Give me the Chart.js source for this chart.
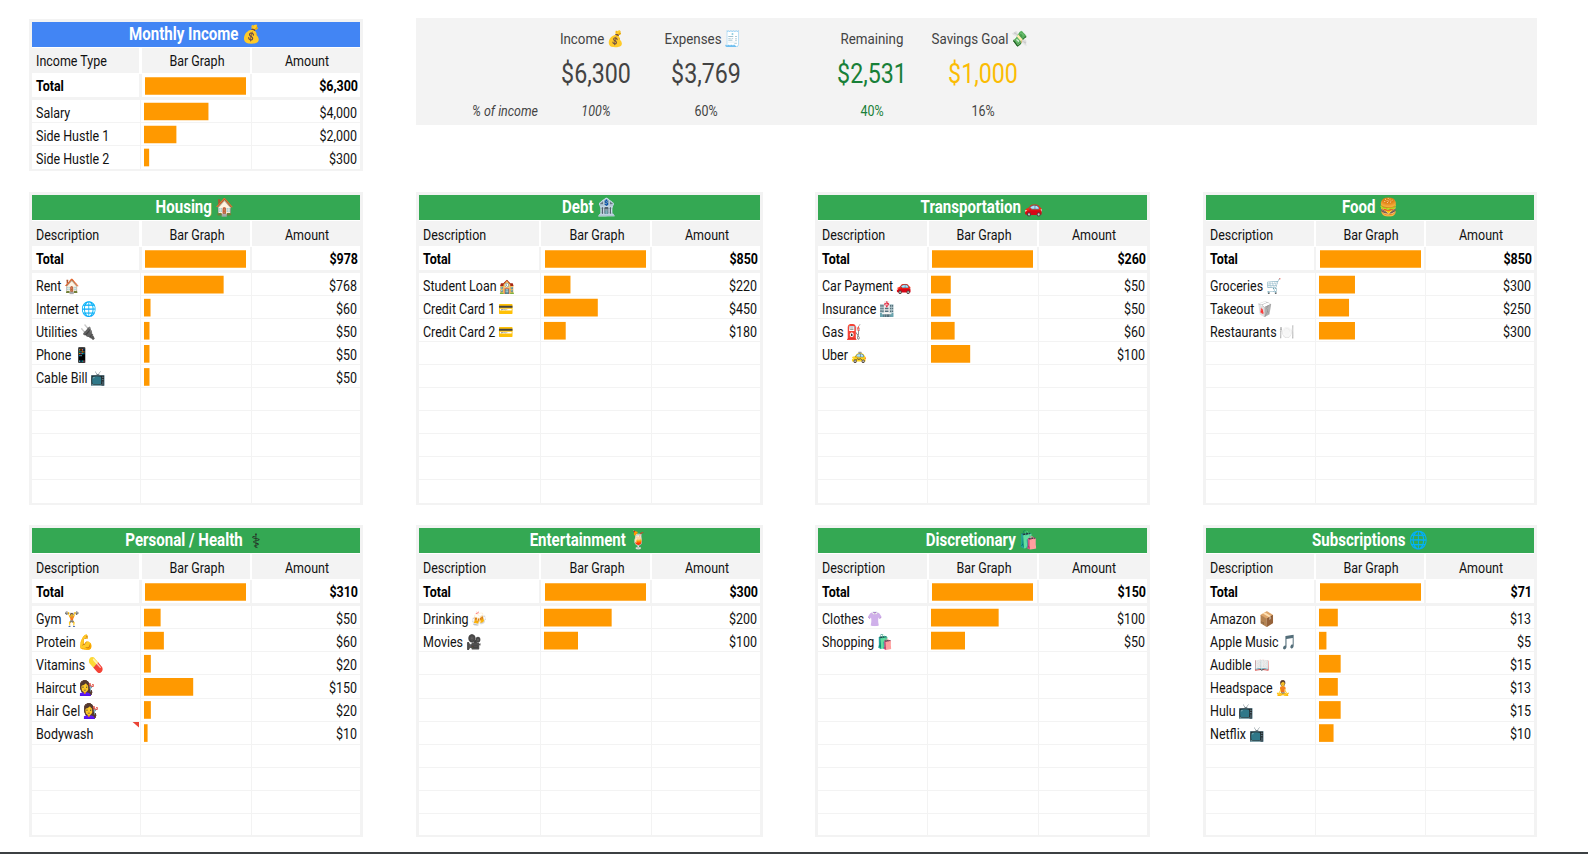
<!DOCTYPE html>
<html lang="en">
<head>
<meta charset="UTF-8">
<title>Monthly Budget Dashboard</title>
<script src="https://cdn.jsdelivr.net/npm/chart.js"></script>
<style>
  * { box-sizing: border-box; margin: 0; padding: 0; }
  html, body { width: 1588px; height: 854px; background: #fff; overflow: hidden; }
  body { position: relative; font-family: Roboto, "Noto Color Emoji", "DejaVu Sans", sans-serif; color: #222; }
  .box { position: absolute; }
  .txt { position: absolute; white-space: nowrap; line-height: 1; }
  canvas { position: absolute; display: block; }
</style>
</head>
<body>
<script>
// ─── Data ─────────────────────────────────────────────────────────────────────
const incomeLabels = ['Salary', 'Side Hustle 1', 'Side Hustle 2'];
const incomeValues = [4000, 2000, 300];
const incomeTotal = 6300;

const housingLabels = ['Rent 🏠', 'Internet 🌐', 'Utilities 🔌', 'Phone 📱', 'Cable Bill 📺'];
const housingValues = [768, 60, 50, 50, 50];
const housingTotal = 978;

const debtLabels = ['Student Loan 🏫', 'Credit Card 1 💳', 'Credit Card 2 💳'];
const debtValues = [220, 450, 180];
const debtTotal = 850;

const transportLabels = ['Car Payment 🚗', 'Insurance 🏥', 'Gas ⛽', 'Uber 🚕'];
const transportValues = [50, 50, 60, 100];
const transportTotal = 260;

const foodLabels = ['Groceries 🛒', 'Takeout 🥡', 'Restaurants 🍽️'];
const foodValues = [300, 250, 300];
const foodTotal = 850;

const personalLabels = ['Gym 🏋️', 'Protein 💪', 'Vitamins 💊', 'Haircut 💇‍♀️', 'Hair Gel 💇‍♀️', 'Bodywash'];
const personalValues = [50, 60, 20, 150, 20, 10];
const personalTotal = 310;

const entertainmentLabels = ['Drinking 🍻', 'Movies 🎥'];
const entertainmentValues = [200, 100];
const entertainmentTotal = 300;

const discretionaryLabels = ['Clothes 👚', 'Shopping 🛍️'];
const discretionaryValues = [100, 50];
const discretionaryTotal = 150;

const subsLabels = ['Amazon 📦', 'Apple Music 🎵', 'Audible 📖', 'Headspace 🧘', 'Hulu 📺', 'Netflix 📺'];
const subsValues = [13, 5, 15, 13, 15, 10];
const subsTotal = 71;

const summaryHeads = ['Income 💰', 'Expenses 🧾', 'Remaining', 'Savings Goal 💸'];
const summaryValues = ['$6,300', '$3,769', '$2,531', '$1,000'];
const summaryPercents = ['100%', '60%', '40%', '16%'];

// ─── Colours and helpers ──────────────────────────────────────────────────────
const GREY = '#f3f3f3', ORANGE = '#ff9900', INK = '#111';
const SQUEEZE = 0.86;   // Roboto squeezed to look like Roboto Condensed

function box(x, y, w, h, color) {
  const el = document.createElement('div');
  el.className = 'box';
  el.style.cssText = `left:${x}px;top:${y}px;width:${w}px;height:${h}px;background:${color}`;
  document.body.appendChild(el);
  return el;
}

// x is the left edge, the centre or the right edge, depending on align
function text(str, x, cy, size, align, color, extra) {
  const el = document.createElement('span');
  el.className = 'txt';
  el.textContent = str;
  const shift = align === 'center' ? '-50%' : align === 'right' ? '-100%' : '0';
  const origin = align === 'center' ? '50%' : align === 'right' ? '100%' : '0';
  el.style.cssText = `left:${x}px;top:${cy}px;font-size:${size}px;color:${color};` +
    `transform-origin:${origin} 50%;transform:translate(${shift},-50%) scaleX(${SQUEEZE});${extra || ''}`;
  document.body.appendChild(el);
}

function barChart(x, y, w, h, labels, values, max, thickness) {
  const canvas = document.createElement('canvas');
  canvas.width = w;
  canvas.height = h;
  canvas.style.left = x + 'px';
  canvas.style.top = y + 'px';
  document.body.appendChild(canvas);
  new Chart(canvas, {
    type: 'bar',
    data: { labels, datasets: [{ data: values, backgroundColor: ORANGE, barThickness: thickness }] },
    options: {
      indexAxis: 'y',
      responsive: false,
      animation: false,
      layout: { padding: 0 },
      plugins: { legend: { display: false }, tooltip: { enabled: false } },
      scales: {
        x: { display: false, min: 0, max },
        y: { display: false },
      },
    },
  });
}

// ─── One budget table ─────────────────────────────────────────────────────────
function panel(p) {
  const [x0, x1, x2, x3, x4, x5] = p.cols;   // desc start/end, bar start/end, amount start/end
  const ROW = p.rowH;

  // outer frame
  box(x0 - 3, p.top - 3, x5 - x0 + 6, p.rowsEnd - p.top + 5, GREY);
  box(x0, p.top, x5 - x0, p.rowsEnd - p.top, '#fff');

  // title band
  box(x0, p.top, x5 - x0, 25, p.band);
  text(p.title, (x0 + x5) / 2 - 0.5 + (p.titleNudge || 0), p.top + 13, 17.5, 'center', '#fff', 'font-weight:700');
  if (p.darkIcon) text(p.darkIcon, 256, p.top + 12.5, 20, 'center', '#222');

  // header row
  const hy = p.top + 26, hh = 25;
  box(x0, hy, x1 - x0, hh, GREY);
  box(x2, hy, x3 - x2, hh, GREY);
  box(x4, hy, x5 - x4, hh, GREY);
  text(p.head, x0 + 4, hy + hh / 2 + p.headNudge, 14.5, 'left', INK);
  text('Bar Graph', (x2 + x3) / 2 + 1.3, hy + hh / 2 + p.headNudge, 14.5, 'center', INK);
  text('Amount', (x4 + x5) / 2 + 0.8, hy + hh / 2 + p.headNudge, 14.5, 'center', INK);

  // total row, then a thick grey rule
  const ty = hy + hh + 1, th = 23;
  box(x1, ty, x2 - x1, th, GREY);
  box(x3, ty, x4 - x3, th, GREY);
  const ry = ty + th + 3;
  box(x0, ty + th, x5 - x0, 3, GREY);
  text('Total', x0 + 4, ty + th / 2 + 1, 14.5, 'left', '#000', 'font-weight:700');
  text('$' + p.total.toLocaleString('en-US'), x5 - 2, ty + th / 2 + 1, 14.5, 'right', '#000', 'font-weight:700');
  barChart(x2 + 3.5, ty + 2.5, 101, 18, ['Total'], [p.total], p.total, 17);

  // item rows
  const n = p.rows;
  box(x1, ry, x2 - x1 - 1, p.rowsEnd - ry, '#fff');
  box(x1 + 0.5, ry, 1, p.rowsEnd - ry, GREY);
  box(x3 + 0.5, ry, 1, p.rowsEnd - ry, GREY);
  for (let i = 1; i < n; i++) box(x0, ry + i * ROW - 1, x5 - x0, 1, GREY);
  p.labels.forEach((label, i) => {
    const cy = ry + (i + 0.5) * ROW + 2 + (p.rowNudge || 0) * i;
    text(label, x0 + 4, cy, 14.5, 'left', INK);
    text('$' + p.values[i].toLocaleString('en-US'), x5 - 3, cy, 14.5, 'right', INK);
  });
  barChart(x2 + 2.5, ry, 101, Math.round(n * ROW), p.labels.concat(Array(n - p.labels.length).fill('')), p.values, p.total, 17);

  if (p.flagRow !== undefined) {
    const flag = box(x1 - 7, ry + p.flagRow * ROW, 7, 6, '#ea4335');
    flag.style.clipPath = 'polygon(0 0, 100% 0, 100% 100%)';
  }
}

// ─── Layout ───────────────────────────────────────────────────────────────────
const colsA = [31.7, 139, 141.7, 250, 252.3, 360];
const colsB = [419, 539, 541, 650, 652, 760];
const colsC = [818.3, 926.7, 928.7, 1037, 1039, 1147.5];
const colsD = [1205.7, 1314, 1316, 1424, 1426, 1534.4];
const BLUE = '#4285f4', GREEN = '#34a853';

panel({ title: 'Monthly Income 💰', head: 'Income Type', band: BLUE, cols: colsA, top: 22, rowsEnd: 169, rows: 3, rowH: 23, headNudge: 1, rowNudge: 0.4, labels: incomeLabels, values: incomeValues, total: incomeTotal });

const rowTop = { top: 195, rowsEnd: 502.5, rows: 10, rowH: 23.05, headNudge: 2, head: 'Description', band: GREEN };
const rowBot = { top: 528.3, rowsEnd: 835.5, rows: 10, rowH: 23.05, headNudge: 2, head: 'Description', band: GREEN };

panel({ ...rowTop, title: 'Housing 🏠', cols: colsA, labels: housingLabels, values: housingValues, total: housingTotal });
panel({ ...rowTop, title: 'Debt 🏦', cols: colsB, labels: debtLabels, values: debtValues, total: debtTotal });
panel({ ...rowTop, title: 'Transportation 🚗', cols: colsC, labels: transportLabels, values: transportValues, total: transportTotal });
panel({ ...rowTop, title: 'Food 🍔', cols: colsD, labels: foodLabels, values: foodValues, total: foodTotal });
panel({ ...rowBot, title: 'Personal / Health', titleNudge: -11.5, darkIcon: '⚕\uFE0E', cols: colsA, labels: personalLabels, values: personalValues, total: personalTotal, flagRow: 5 });
panel({ ...rowBot, title: 'Entertainment 🍹', cols: colsB, labels: entertainmentLabels, values: entertainmentValues, total: entertainmentTotal });
panel({ ...rowBot, title: 'Discretionary 🛍️', cols: colsC, labels: discretionaryLabels, values: discretionaryValues, total: discretionaryTotal });
panel({ ...rowBot, title: 'Subscriptions 🌐', cols: colsD, labels: subsLabels, values: subsValues, total: subsTotal });

// ─── Summary strip ────────────────────────────────────────────────────────────
box(416.3, 18.2, 1121, 106.4, GREY);
const summaryX = [595.5, 706, 872, 982.5];
const summaryHeadX = [592, 703, 872, 980];
const summaryColors = ['#434343', '#434343', '#188038', '#fbbc04'];
const percentColors = ['#434343', '#434343', '#188038', '#434343'];
summaryX.forEach((x, i) => {
  text(summaryHeads[i], summaryHeadX[i], 39.5, 15.5, 'center', '#434343');
  text(summaryValues[i], x, 74, 27, 'center', summaryColors[i]);
  text(summaryPercents[i], x, 112, 14.5, 'center', percentColors[i], i === 0 ? 'font-style:italic' : '');
});
text('% of income', 538, 112, 14.5, 'right', '#434343', 'font-style:italic');

// window edge along the bottom
box(0, 852, 1588, 2, '#3c4043');
</script>
</body>
</html>
